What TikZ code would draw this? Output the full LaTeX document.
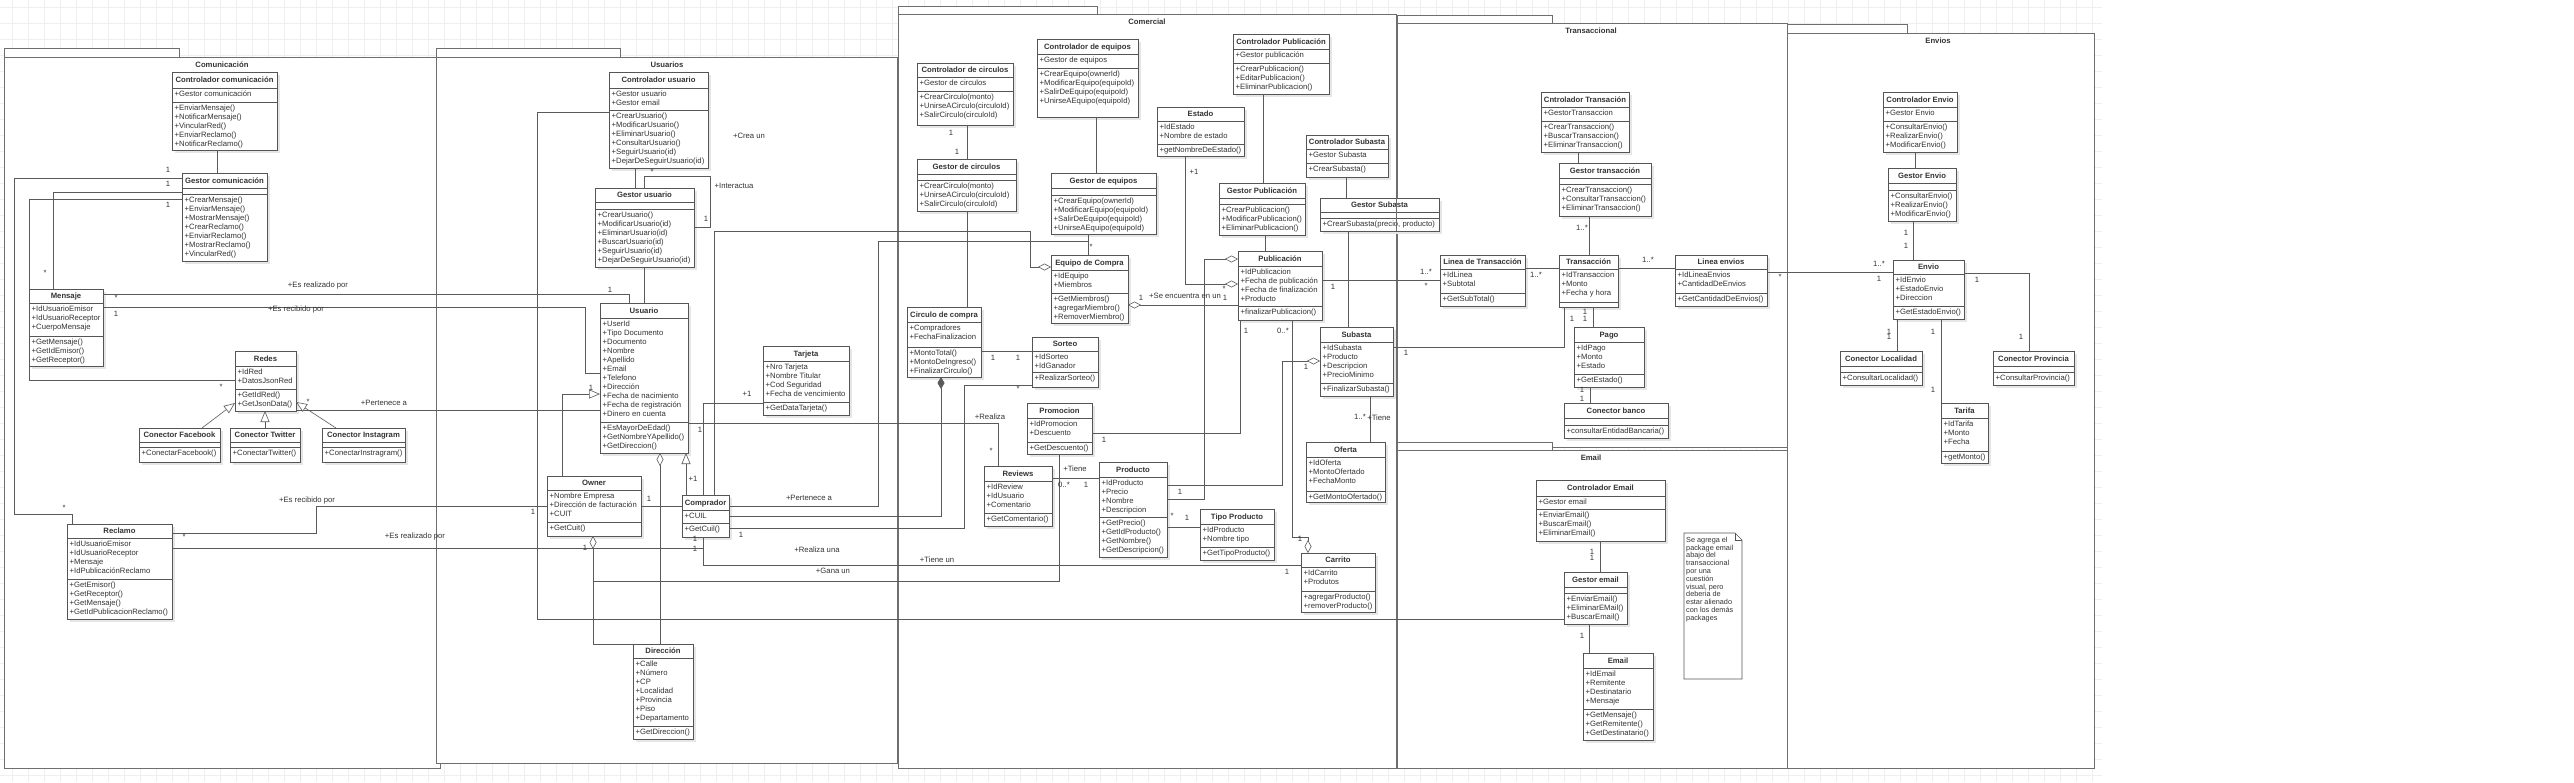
\documentclass[tikz,border=0pt]{standalone}
\usepackage{fontspec}
\setmainfont{Liberation Sans}
\usetikzlibrary{arrows.meta}
\definecolor{linec}{HTML}{5A5A5A}
\definecolor{boxc}{HTML}{555555}
\definecolor{pkgc}{HTML}{6E6E6E}
\definecolor{txtc}{HTML}{333333}
\definecolor{gridc}{HTML}{EFEFEF}
\definecolor{shadc}{HTML}{E6E6E6}
\tikzset{
 clsnode/.style={draw=boxc, fill=white, line width=0.6pt, anchor=north west, inner sep=0pt, outer sep=0pt},
 divl/.style={draw=boxc, line width=0.6pt},
 titlef/.style={font=\bfseries\fontsize{7.7}{9}\selectfont, text=txtc, inner sep=0pt},
 txtf/.style={font=\fontsize{7.7}{9}\selectfont, text=txtc, inner sep=0pt, align=left, anchor=north west},
 lab/.style={font=\fontsize{7.7}{9}\selectfont, text=txtc, inner sep=0pt},
 notef/.style={font=\fontsize{7.3}{7.8}\selectfont, text=txtc, inner sep=0pt, align=left, anchor=north west},
 con/.style={draw=linec, line width=0.6pt},
 pkg/.style={draw=pkgc, fill=white, line width=1pt},
 pkgtitle/.style={font=\bfseries\fontsize{7.7}{9}\selectfont, text=txtc, inner sep=0pt, anchor=base},
 gen/.style={-{Triangle[length=11pt,width=9pt,fill=white]}},
 agg/.style={{Diamond[length=13pt,width=7pt,fill=white]}-},
 aggend/.style={-{Diamond[length=13pt,width=7pt,fill=white]}},
 compend/.style={-{Diamond[length=12pt,width=7pt,fill=linec]}},
}
\newcommand\clsbox[7]{%
  \def\cname{#1}\def\cxa{#2}\def\cya{#3}\def\cxb{#4}\def\cyh{#5}\def\cyt{#6}\def\cyb{#7}%
  \fill[shadc] (#2+3,#3+3) rectangle (#4+3,#7+3);
  \node[clsnode, minimum width={(#4-#2)*1pt}, minimum height={(#7-#3)*1pt}] (#1) at (#2,#3) {};
  \draw[divl] (#2,#5) -- (#4,#5) (#2,#6) -- (#4,#6);
}
\newcommand\clstext[3]{%
  \node[titlef, anchor=base] (\cname-t) at ({(\cxa+\cxb)/2},{(\cya+\cyh)/2+2.8}) {#1};
  \ifx\relax#2\relax\else
  \node[txtf] (\cname-a) at (\cxa+2.5,\cyh+1.8) {\rule{0pt}{6.2pt}#2};\fi
  \ifx\relax#3\relax\else
  \node[txtf] (\cname-m) at (\cxa+2.5,\cyt+1.8) {\rule{0pt}{6.2pt}#3};\fi
}
\newcounter{lbn}
\newcommand\lb[2]{\stepcounter{lbn}\node[lab] (lb\arabic{lbn}) at (#1) {#2};}
\begin{document}
\begin{tikzpicture}[x=1pt,y=-1pt]
\useasboundingbox (0,0) rectangle (2574,782);
\fill[white] (0,0) rectangle (2574,782);
\foreach \gx in {12,28,...,2100} \draw[gridc,line width=0.5pt] (\gx,0) -- (\gx,782);
\foreach \gy in {7,23,...,782} \draw[gridc,line width=0.5pt] (0,\gy) -- (2102,\gy);

% ---------- packages ----------
\draw[pkg] (4,48) rectangle (179,57);
\draw[pkg] (4,57) rectangle (440,768);
\node[pkgtitle] (p1) at (222,67.8) {Comunicación};
\draw[pkg] (436,48) rectangle (620,57);
\draw[pkg] (436,57) rectangle (897,763);
\node[pkgtitle] (p2) at (667,67.8) {Usuarios};
\draw[pkg] (898,6) rectangle (1097,14);
\draw[pkg] (898,14) rectangle (1396,768);
\node[pkgtitle] (p3) at (1147,24.8) {Comercial};
\draw[pkg] (1397,15) rectangle (1552,23);
\draw[pkg] (1397,23) rectangle (1787,447);
\node[pkgtitle] (p4) at (1591,33.8) {Transaccional};
\draw[pkg] (1397,442) rectangle (1552,450);
\draw[pkg] (1397,450) rectangle (1787,768);
\node[pkgtitle] (p5) at (1591,460.8) {Email};
\draw[pkg] (1787,24) rectangle (1907,33);
\draw[pkg] (1787,33) rectangle (2094,768);
\node[pkgtitle] (p6) at (1938,43.8) {Envios};

% ---------- Comunicacion ----------
\clsbox{ccom}{172}{72}{277}{88}{102}{150}
\clstext{Controlador comunicación}{+Gestor comunicación}{+EnviarMensaje()\\+NotificarMensaje()\\+VincularRed()\\+EnviarReclamo()\\+NotificarReclamo()}
\clsbox{gcom}{182}{173}{267}{188}{194}{261}
\clstext{Gestor comunicación}{}{+CrearMensaje()\\+EnviarMensaje()\\+MostrarMensaje()\\+CrearReclamo()\\+EnviarReclamo()\\+MostrarReclamo()\\+VincularRed()}
\clsbox{mensaje}{29}{289}{103}{303}{336}{366}
\clstext{Mensaje}{+IdUsuarioEmisor\\+IdUsuarioReceptor\\+CuerpoMensaje}{+GetMensaje()\\+GetIdEmisor()\\+GetReceptor()}
\clsbox{redes}{235}{351}{296}{366}{389}{411}
\clstext{Redes}{+IdRed\\+DatosJsonRed}{+GetIdRed()\\+GetJsonData()}
\clsbox{cfb}{139}{428}{220}{442}{447}{462}
\clstext{Conector Facebook}{}{+ConectarFacebook()}
\clsbox{ctw}{230}{428}{300}{442}{447}{462}
\clstext{Conector Twitter}{}{+ConectarTwitter()}
\clsbox{cig}{322}{428}{405}{442}{447}{462}
\clstext{Conector Instagram}{}{+ConectarInstragram()}
\clsbox{reclamo}{67}{524}{172}{538}{579}{619}
\clstext{Reclamo}{+IdUsuarioEmisor\\+IdUsuarioReceptor\\+Mensaje\\+IdPublicaciónReclamo}{+GetEmisor()\\+GetReceptor()\\+GetMensaje()\\+GetIdPublicacionReclamo()}

% ---------- Usuarios ----------
\clsbox{cusr}{609}{72}{708}{88}{110}{168}
\clstext{Controlador usuario}{+Gestor usuario\\+Gestor email}{+CrearUsuario()\\+ModificarUsuario()\\+EliminarUsuario()\\+ConsultarUsuario()\\+SeguirUsuario(id)\\+DejarDeSeguirUsuario(id)}
\clsbox{gusr}{595}{188}{694}{202}{209}{267}
\clstext{Gestor usuario}{}{+CrearUsuario()\\+ModificarUsuario(id)\\+EliminarUsuario(id)\\+BuscarUsuario(id)\\+SeguirUsuario(id)\\+DejarDeSeguirUsuario(id)}
\clsbox{usuario}{600}{303}{688}{318}{422}{453}
\clstext{Usuario}{+UserId\\+Tipo Documento\\+Documento\\+Nombre\\+Apellido\\+Email\\+Telefono\\+Dirección\\+Fecha de nacimiento\\+Fecha de registración\\+Dinero en cuenta}{+EsMayorDeEdad()\\+GetNombreYApellido()\\+GetDireccion()}
\clsbox{tarjeta}{763}{346}{849}{361}{402}{415}
\clstext{Tarjeta}{+Nro Tarjeta\\+Nombre Titular\\+Cod Seguridad\\+Fecha de vencimiento}{+GetDataTarjeta()}
\clsbox{owner}{547}{476}{641}{490}{522}{536}
\clstext{Owner}{+Nombre Empresa\\+Dirección de facturación\\+CUIT}{+GetCuit()}
\clsbox{comprador}{682}{495}{729}{510}{523}{537}
\clstext{Comprador}{+CUIL}{+GetCuil()}
\clsbox{direccion}{633}{644}{693}{658}{726}{739}
\clstext{Dirección}{+Calle\\+Número\\+CP\\+Localidad\\+Provincia\\+Piso\\+Departamento}{+GetDireccion()}

% ---------- Comercial ----------
\clsbox{ccirc}{917}{63}{1013}{77}{91}{125}
\clstext{Controlador de circulos}{+Gestor de circulos}{+CrearCirculo(monto)\\+UnirseACirculo(circuloId)\\+SalirCirculo(circuloId)}
\clsbox{gcirc}{917}{159}{1016}{174}{180}{211}
\clstext{Gestor de circulos}{}{+CrearCirculo(monto)\\+UnirseACirculo(circuloId)\\+SalirCirculo(circuloId)}
\clsbox{circulo}{907}{307}{981}{322}{347}{377}
\clstext{Circulo de compra}{+Compradores\\+FechaFinalizacion}{+MontoTotal()\\+MontoDeIngreso()\\+FinalizarCirculo()}
\clsbox{sorteo}{1032}{337}{1098}{351}{372}{387}
\clstext{Sorteo}{+IdSorteo\\+IdGanador}{+RealizarSorteo()}
\clsbox{cequ}{1037}{39}{1138}{54}{68}{117}
\clstext{Controlador de equipos}{+Gestor de equipos}{+CrearEquipo(ownerId)\\+ModificarEquipo(equipoId)\\+SalirDeEquipo(equipoId)\\+UnirseAEquipo(equipoId)}
\clsbox{gequ}{1051}{173}{1156}{188}{195}{234}
\clstext{Gestor de equipos}{}{+CrearEquipo(ownerId)\\+ModificarEquipo(equipoId)\\+SalirDeEquipo(equipoId)\\+UnirseAEquipo(equipoId)}
\clsbox{equipo}{1051}{255}{1128}{270}{293}{323}
\clstext{Equipo de Compra}{+IdEquipo\\+Miembros}{+GetMiembros()\\+agregarMiembro()\\+RemoverMiembro()}
\clsbox{estado}{1157}{107}{1244}{121}{144}{156}
\clstext{Estado}{+IdEstado\\+Nombre de estado}{+getNombreDeEstado()}
\clsbox{cpub}{1233}{34}{1329}{49}{63}{94}
\clstext{Controlador Publicación}{+Gestor publicación}{+CrearPublicacion()\\+EditarPublicacion()\\+EliminarPublicacion()}
\clsbox{gpub}{1219}{183}{1305}{198}{204}{235}
\clstext{Gestor Publicación}{}{+CrearPublicacion()\\+ModificarPublicacion()\\+EliminarPublicacion()}
\clsbox{pub}{1238}{251}{1322}{266}{306}{320}
\clstext{Publicación}{+IdPublicacion\\+Fecha de publicación\\+Fecha de finalización\\+Producto}{+finalizarPublicacion()}
\clsbox{csub}{1306}{135}{1388}{149}{163}{177}
\clstext{Controlador Subasta}{+Gestor Subasta}{+CrearSubasta()}
\clsbox{gsub}{1320}{198}{1439}{212}{218}{231}
\clstext{Gestor Subasta}{}{+CrearSubasta(precio, producto)}
\draw[pkgc, line width=1pt] (1396,198) -- (1396,231);
\clsbox{subasta}{1320}{327}{1393}{342}{383}{396}
\clstext{Subasta}{+IdSubasta\\+Producto\\+Descripcion\\+PrecioMinimo}{+FinalizarSubasta()}
\clsbox{oferta}{1306}{442}{1385}{457}{491}{502}
\clstext{Oferta}{+IdOferta\\+MontoOfertado\\+FechaMonto}{+GetMontoOfertado()}
\clsbox{carrito}{1301}{553}{1375}{567}{591}{612}
\clstext{Carrito}{+IdCarrito\\+Produtos}{+agregarProducto()\\+removerProducto()}
\clsbox{promo}{1027}{403}{1092}{418}{442}{454}
\clstext{Promocion}{+IdPromocion\\+Descuento}{+GetDescuento()}
\clsbox{reviews}{984}{466}{1052}{481}{513}{526}
\clstext{Reviews}{+IdReview\\+IdUsuario\\+Comentario}{+GetComentario()}
\clsbox{producto}{1099}{462}{1167}{477}{517}{557}
\clstext{Producto}{+IdProducto\\+Precio\\+Nombre\\+Descripcion}{+GetPrecio()\\+GetIdProducto()\\+GetNombre()\\+GetDescripcion()}
\clsbox{tipo}{1200}{509}{1274}{524}{547}{560}
\clstext{Tipo Producto}{+IdProducto\\+Nombre tipo}{+GetTipoProducto()}

% ---------- Transaccional ----------
\clsbox{ctrans}{1541}{92}{1629}{107}{121}{152}
\clstext{Cntrolador Transación}{+GestorTransaccion}{+CrearTransaccion()\\+BuscarTransaccion()\\+EliminarTransaccion()}
\clsbox{gtrans}{1559}{163}{1651}{178}{184}{216}
\clstext{Gestor transacción}{}{+CrearTransaccion()\\+ConsultarTransaccion()\\+EliminarTransaccion()}
\clsbox{linea}{1440}{255}{1525}{269}{293}{306}
\clstext{Linea de Transacción}{+IdLinea\\+Subtotal}{+GetSubTotal()}
\clsbox{trans}{1559}{255}{1618}{269}{302}{307}
\clstext{Transacción}{+IdTransaccion\\+Monto\\+Fecha y hora}{}
\clsbox{pago}{1574}{327}{1644}{342}{374}{387}
\clstext{Pago}{+IdPago\\+Monto\\+Estado}{+GetEstado()}
\clsbox{banco}{1564}{403}{1668}{418}{425}{438}
\clstext{Conector banco}{}{+consultarEntidadBancaria()}
\clsbox{lenv}{1675}{255}{1767}{269}{293}{306}
\clstext{Linea envios}{+IdLineaEnvios\\+CantidadDeEnvios}{+GetCantidadDeEnvios()}

% ---------- Envios ----------
\clsbox{cenv}{1883}{92}{1957}{107}{121}{152}
\clstext{Controlador Envio}{+Gestor Envio}{+ConsultarEnvio()\\+RealizarEnvio()\\+ModificarEnvio()}
\clsbox{genv}{1888}{168}{1956}{183}{190}{221}
\clstext{Gestor Envio}{}{+ConsultarEnvio()\\+RealizarEnvio()\\+ModificarEnvio()}
\clsbox{envio}{1893}{260}{1964}{274}{306}{319}
\clstext{Envio}{+IdEnvio\\+EstadoEnvio\\+Direccion}{+GetEstadoEnvio()}
\clsbox{cloc}{1840}{351}{1922}{366}{372}{385}
\clstext{Conector Localidad}{}{+ConsultarLocalidad()}
\clsbox{cprov}{1993}{351}{2074}{366}{372}{385}
\clstext{Conector Provincia}{}{+ConsultarProvincia()}
\clsbox{tarifa}{1941}{403}{1988}{418}{451}{463}
\clstext{Tarifa}{+IdTarifa\\+Monto\\+Fecha}{+getMonto()}

% ---------- Email ----------
\clsbox{cemail}{1536}{480}{1665}{496}{509}{541}
\clstext{Controlador Email}{+Gestor email}{+EnviarEmail()\\+BuscarEmail()\\+EliminarEmail()}
\clsbox{gemail}{1564}{572}{1627}{587}{593}{624}
\clstext{Gestor email}{}{+EnviarEmail()\\+EliminarEMail()\\+BuscarEmail()}
\clsbox{email}{1583}{653}{1653}{668}{709}{740}
\clstext{Email}{+IdEmail\\+Remitente\\+Destinatario\\+Mensaje}{+GetMensaje()\\+GetRemitente()\\+GetDestinatario()}

% note
\draw[draw=boxc, fill=white, line width=0.6pt] (1684,533) -- (1735,533) -- (1742,540) -- (1742,679) -- (1684,679) -- cycle;
\draw[draw=boxc, line width=0.5pt] (1735,533) -- (1735,540) -- (1742,540);
\node[notef] (note) at (1686,536.5) {\rule{0pt}{5.6pt}Se agrega el\\package email\\abajo del\\transaccional\\por una\\cuestión\\visual, pero\\deberia de\\estar alienado\\con los demás\\packages};

% ---------- connectors: Comunicacion ----------
\draw[con] (ccom.south -| 217,0) -- (gcom.north -| 217,0);
\draw[con] (gcom.west |- 0,178) -- (14,178) -- (14,514) -- (72,514) -- (reclamo.north -| 72,0);
\draw[con] (gcom.west |- 0,192) -- (53,192) -- (mensaje.north -| 53,0);
\draw[con] (gcom.west |- 0,199) -- (29,199) -- (29,380) -- (redes.west |- 0,380);
\draw[con] (mensaje.east |- 0,294) -- (629,294) -- (usuario.north -| 629,0);
\draw[con] (mensaje.east |- 0,307) -- (585,307) -- (585,373) -- (usuario.west |- 0,373);
\draw[con] (redes.east |- 0,410) -- (usuario.west |- 0,410);
\draw[con,gen] (cfb.north -| 202,0) -- (redes.west |- 0,403);
\draw[con,gen] (ctw.north -| 265,0) -- (redes.south -| 265,0);
\draw[con,gen] (cig.north -| 336,0) -- (redes.east |- 0,402);
\draw[con] (reclamo.east |- 0,533) -- (316,533) -- (316,506) -- (owner.west |- 0,506);
\draw[con] (reclamo.east |- 0,548) -- (703,548) -- (comprador.south -| 703,0);

% ---------- connectors: Usuarios ----------
\draw[con] (cusr.south -| 635,0) -- (gusr.north -| 635,0);
\draw[con] (gusr.south -| 644,0) -- (usuario.north -| 644,0);
\draw[con] (gusr.north -| 644,0) -- (644,176) -- (710,176) -- (710,227) -- (gusr.east |- 0,227);
\draw[con] (cusr.west |- 0,112) -- (537,112) -- (537,619) -- (gemail.west |- 0,619);
\draw[con,gen] (owner.north -| 562,0) -- (562,394) -- (usuario.west |- 0,394);
\draw[con,gen] (comprador.north -| 686,0) -- (usuario.south -| 686,0);
\draw[con,agg] (usuario.south -| 660,0) -- (direccion.north -| 660,0);
\draw[con,agg] (owner.south -| 593,0) -- (593,644) -- (direccion.north west);
\draw[con] (owner.east |- 0,506) -- (comprador.west |- 0,506);
\draw[con] (tarjeta.west |- 0,403) -- (703,403) -- (comprador.north -| 703,0);
\draw[con] (usuario.east |- 0,423) -- (998,423) -- (reviews.north -| 998,0);
\draw[con,aggend] (comprador.north -| 714,0) -- (714,231) -- (1030,231) -- (1030,267) -- (equipo.west |- 0,267);
\draw[con] (comprador.east |- 0,506) -- (878,506) -- (878,241) -- (1088,241) -- (equipo.north -| 1088,0);
\draw[con,compend] (comprador.east |- 0,516) -- (941,516) -- (circulo.south -| 941,0);
\draw[con] (comprador.east |- 0,528) -- (964,528) -- (964,385) -- (sorteo.west |- 0,385);
\draw[con] (comprador.south -| 703,0) -- (703,565) -- (carrito.west |- 0,565);
\coordinate (gj) at (593,581);
\draw[con] (gj) -- (1059,581) -- (promo.south -| 1059,0);

% ---------- connectors: Comercial ----------
\draw[con] (ccirc.south -| 967,0) -- (gcirc.north -| 967,0);
\draw[con] (gcirc.south -| 967,0) -- (circulo.north -| 967,0);
\draw[con] (circulo.east |- 0,351) -- (sorteo.west |- 0,351);
\draw[con] (cequ.south -| 1096,0) -- (gequ.north -| 1096,0);
\draw[con] (gequ.south -| 1088,0) -- (equipo.north -| 1088,0);
\draw[con,agg] (equipo.east |- 0,305) -- (pub.west |- 0,305);
\draw[con,aggend] (estado.south -| 1185,0) -- (1185,284) -- (pub.west |- 0,284);
\draw[con] (cpub.south -| 1263,0) -- (gpub.north -| 1263,0);
\draw[con] (gpub.south -| 1265,0) -- (pub.north -| 1265,0);
\draw[con,aggend] (producto.east |- 0,499) -- (1204,499) -- (1204,259) -- (pub.west |- 0,259);
\draw[con] (pub.south -| 1240,0) -- (1240,433) -- (promo.east |- 0,433);
\draw[con,aggend] (producto.east |- 0,485) -- (1282,485) -- (1282,361) -- (subasta.west |- 0,361);
\draw[con,aggend] (pub.south -| 1292,0) -- (1292,537) -- (1308,537) -- (carrito.north -| 1308,0);
\draw[con] (reviews.east |- 0,478) -- (producto.west |- 0,478);
\draw[con] (producto.east |- 0,527) -- (tipo.west |- 0,527);
\draw[con] (pub.east |- 0,280) -- (linea.west |- 0,280);
\draw[con] (csub.south -| 1346,0) -- (gsub.north -| 1346,0);
\draw[con] (gsub.south -| 1348,0) -- (subasta.north -| 1348,0);
\draw[con] (subasta.south -| 1370,0) -- (oferta.north -| 1370,0);
\draw[con] (subasta.east |- 0,347) -- (1564,347) -- (trans.south -| 1564,0);

% ---------- connectors: Transaccional / Envios / Email ----------
\draw[con] (ctrans.south -| 1578,0) -- (gtrans.north -| 1578,0);
\draw[con] (gtrans.south -| 1589,0) -- (trans.north -| 1589,0);
\draw[con] (linea.east |- 0,268) -- (trans.west |- 0,268);
\draw[con] (trans.east |- 0,268) -- (lenv.west |- 0,268);
\draw[con] (trans.south -| 1593,0) -- (pago.north -| 1593,0);
\draw[con] (pago.south -| 1590,0) -- (banco.north -| 1590,0);
\draw[con] (lenv.east |- 0,272) -- (envio.west |- 0,272);
\draw[con] (cenv.south -| 1915,0) -- (genv.north -| 1915,0);
\draw[con] (genv.south -| 1913,0) -- (envio.north -| 1913,0);
\draw[con] (envio.south -| 1897,0) -- (cloc.north -| 1897,0);
\draw[con] (envio.south -| 1941,0) -- (tarifa.north -| 1941,0);
\draw[con] (envio.east |- 0,273) -- (2029,273) -- (cprov.north -| 2029,0);
\draw[con] (cemail.south -| 1600,0) -- (gemail.north -| 1600,0);
\draw[con] (gemail.south -| 1589,0) -- (email.north -| 1589,0);

% ---------- labels ----------
\lb{168,170}{1} \lb{64,508}{*} \lb{168,184}{1} \lb{45,273}{*} \lb{168,205}{1} \lb{221,387}{*}
\lb{318,286}{+Es realizado por} \lb{116,298}{*} \lb{610,290}{1}
\lb{296,310}{+Es recibido por} \lb{116,314}{1}
\lb{384,403}{+Pertenece a} \lb{308,402}{*} \lb{591,388}{1}
\lb{307,500}{+Es recibido por} \lb{533,512}{1}
\lb{415,536}{+Es realizado por} \lb{184,537}{*} \lb{585,548}{1} \lb{695,549}{1} \lb{695,539}{1}
\lb{652,172}{*} \lb{706,219}{1} \lb{734,186}{+Interactua} \lb{749,136}{+Crea un}
\lb{693,479}{+1} \lb{649,499}{1} \lb{747,394}{+1} \lb{700,430}{1}
\lb{990,417}{+Realiza} \lb{991,451}{*} \lb{809,498}{+Pertenece a} \lb{741,535}{1}
\lb{817,550}{+Realiza una} \lb{937,560}{+Tiene un} \lb{1287,572}{1} \lb{833,571}{+Gana un}
\lb{1091,247}{*} \lb{1018,389}{*}
\lb{951,133}{1} \lb{957,152}{1} \lb{993,358}{1} \lb{1018,358}{1}
\lb{1141,298}{1} \lb{1185,296}{+Se encuentra en un} \lb{1225,298}{1} \lb{1224,289}{*}
\lb{1194,172}{+1} \lb{1180,492}{1} \lb{1246,331}{1} \lb{1104,440}{1} \lb{1283,331}{0..*}
\lb{1306,367}{1} \lb{1300,539}{1} \lb{1075,469}{+Tiene} \lb{1064,485}{0..*} \lb{1086,485}{1}
\lb{1172,516}{*} \lb{1187,518}{1} \lb{1333,287}{1} \lb{1426,272}{1..*} \lb{1426,286}{*}
\lb{1360,417}{1..*} \lb{1379,418}{+Tiene} \lb{1406,353}{1} \lb{1572,319}{1}
\lb{1582,228}{1..*} \lb{1536,275}{1..*} \lb{1648,260}{1..*} \lb{1585,312}{1} \lb{1585,319}{1}
\lb{1582,390}{1} \lb{1582,399}{1} \lb{1780,277}{*} \lb{1879,264}{1..*} \lb{1879,279}{1}
\lb{1906,233}{1} \lb{1906,246}{1} \lb{1889,332}{1} \lb{1889,337}{1} \lb{1933,332}{1} \lb{1933,390}{1}
\lb{1977,280}{1} \lb{2021,337}{1}
\lb{1592,552}{1} \lb{1592,558}{1} \lb{1582,636}{1}
\end{tikzpicture}
\end{document}
